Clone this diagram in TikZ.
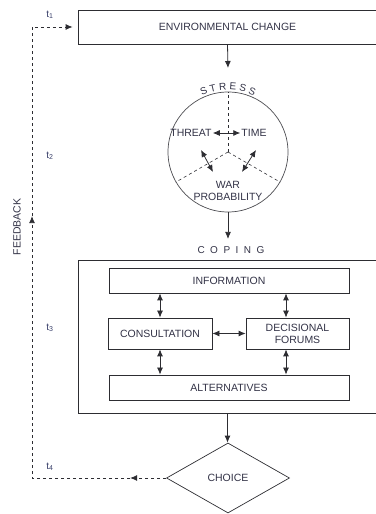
\documentclass[tikz,border=0pt]{standalone}
\usepackage{fontspec}
\setmainfont{Liberation Sans}
\usepackage{xcolor}
\usetikzlibrary{shapes.geometric, arrows.meta, decorations.text, decorations.markings}
\definecolor{inkline}{RGB}{45,45,50}
\definecolor{inktext}{RGB}{50,50,70}
\definecolor{inktime}{RGB}{55,62,105}

\begin{document}
\begin{tikzpicture}[x=1pt, y=1pt, >={Latex[length=7pt,width=6pt]},
		every node/.style={text=inktext, font=\fontsize{10.5}{12}\selectfont},
		panel/.style={draw=inkline, line width=0.8pt, inner sep=0pt},
		link/.style={draw=inkline, line width=0.8pt},
		timestamp/.style={text=inktime, font=\fontsize{10}{12}\selectfont}]
			\useasboundingbox (0,0) rectangle (375,514);

			\node[panel, minimum width=299, minimum height=34] (env) at (227.5,487) {ENVIRONMENTAL CHANGE};
			\coordinate (stresstop) at (228,446);
			\draw[->, link] (env.south) -- (stresstop);

			\node[circle, draw=inkline!85, line width=0.7pt, minimum size=120, inner sep=0pt] (stress) at (228,362) {};
			\path[decorate, decoration={text along path, text align=center,
				text={|\fontsize{10}{12}\selectfont\color{inktext}|S T R E S S}}]
				(stress.center) ++(125:62) arc[start angle=125, end angle=55, radius=62];
			\foreach \a in {90,210,330}
				\draw[dashed, inkline, line width=0.6pt] (stress.center) -- (stress.\a);

			\node[inner sep=1pt] (threat) at (191,381) {THREAT};
			\node[inner sep=1pt] (time) at (254,381) {TIME};
			\node[align=center, inner sep=1pt] (war) at (228,323) {WAR\\PROBABILITY};
			\draw[<->, link] (threat.east) -- (time.west);
			\coordinate (tw1) at (201,364);
			\coordinate (tw2) at (213,342);
			\coordinate (mw1) at (256,364);
			\coordinate (mw2) at (242,342);
			\draw[<->, link] (tw1) -- (tw2);
			\draw[<->, link] (mw1) -- (mw2);

			\node[font=\fontsize{10}{12}\selectfont\addfontfeatures{LetterSpace=55}] (coping) at (231,264) {COPING};
			\draw[->, link, shorten >=4pt] (stress.south) -- (stress.south |- coping.north);

			\node[panel, minimum width=299, minimum height=153] (copebox) at (227.5,177.5) {};
			\node[panel, minimum width=240, minimum height=25] (info) at (229,233.5) {INFORMATION};
			\node[panel, minimum width=104, minimum height=31] (consult) at (160,180.5) {CONSULTATION};
			\node[panel, minimum width=103, minimum height=31, align=center] (decide) at (297.5,180.5) {DECISIONAL\\FORUMS};
			\node[panel, minimum width=240, minimum height=25] (alt) at (229,126.5) {ALTERNATIVES};
			\coordinate (rcol) at (286,0);

			\draw[<->, link] (consult.north) -- (consult.north |- info.south);
			\draw[<->, link] (decide.north -| rcol) -- (info.south -| rcol);
			\draw[<->, link] (consult.east) -- (decide.west);
			\draw[<->, link] (consult.south) -- (consult.south |- alt.north);
			\draw[<->, link] (decide.south -| rcol) -- (alt.north -| rcol);

			\node[diamond, draw=inkline, line width=0.7pt, aspect=1.757, minimum width=123, minimum height=70, inner sep=0pt] (choice) at (228,36) {CHOICE};
			\draw[->, link] (copebox.south) -- (copebox.south |- choice.north);

			\coordinate (fb) at (32,0);
			\draw[->, link, dashed, shorten >=5pt,
				decoration={markings,
					mark=at position 36pt with {\arrow[solid]{Latex[length=7pt,width=6pt]}},
					mark=at position 396pt with {\arrow[solid]{Latex[length=7pt,width=6pt]}}},
				postaction={decorate}]
				(choice.west) -| (fb |- env.west) -- (env.west);
			\node[rotate=90] (feedback) at (17,287) {FEEDBACK};

			\foreach \i/\y in {1/499, 2/358, 3/186, 4/47}
				\node[timestamp] (t\i) at (50,\y) {t\textsubscript{\i}};
		\end{tikzpicture}
\end{document}
